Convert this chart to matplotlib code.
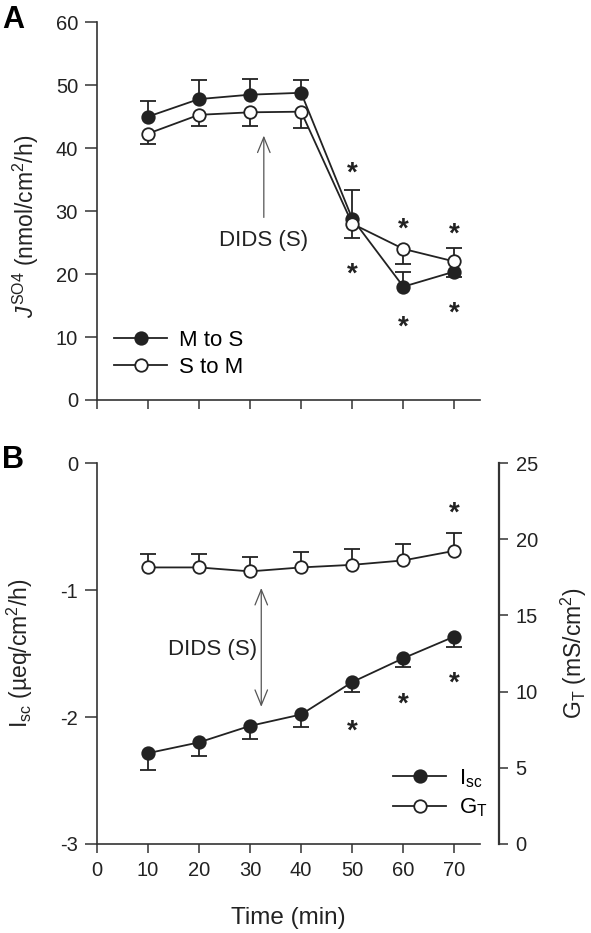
import matplotlib
matplotlib.use("Agg")
import matplotlib.pyplot as plt
from matplotlib import transforms
import numpy as np

# ── Data ──────────────────────────────────────────────────────────────────────
time = np.array([10, 20, 30, 40, 50, 60, 70])

# Panel A: J_SO4 (nmol/cm2/h)
ms_mean = np.array([45.0, 47.8, 48.5, 48.8, 28.8, 18.0, 20.4])
ms_err_hi = np.array([2.5, 3.0, 2.5, 2.0, 4.6, 2.3, 0.0])
ms_err_lo = np.array([0.0, 0.0, 0.0, 0.0, 0.0, 0.0, 0.9])
sm_mean = np.array([42.3, 45.3, 45.7, 45.8, 28.0, 24.0, 22.0])
sm_err_hi = np.array([0.0, 0.0, 0.0, 0.0, 0.0, 0.0, 2.1])
sm_err_lo = np.array([1.6, 1.8, 2.2, 2.6, 2.2, 2.4, 0.0])
star_a_x = [50, 50, 60, 60, 70, 70]
star_a_y = [37.2, 21.2, 28.3, 12.8, 27.6, 15.1]

# Panel B: Isc (ueq/cm2/h, left) and GT (mS/cm2, right)
isc_mean = np.array([-2.285, -2.20, -2.07, -1.98, -1.725, -1.537, -1.366])
isc_err_lo = np.array([0.135, 0.11, 0.105, 0.10, 0.075, 0.073, 0.084])
gt_mean = np.array([18.15, 18.15, 17.89, 18.15, 18.32, 18.61, 19.24])
gt_err_hi = np.array([0.90, 0.90, 0.94, 0.98, 1.05, 1.09, 1.16])
star_b_x = [50, 60, 70, 70]
star_b_y = [-2.05, -1.84, -1.67, -0.33]

# ── Style ─────────────────────────────────────────────────────────────────────
INK = "#222222"
AXC = "#333333"
ARROW = "#555555"
plt.rcParams.update({
    "font.family": ["Liberation Sans", "DejaVu Sans"],
    "mathtext.fontset": "custom",
    "mathtext.rm": "Liberation Sans",
    "mathtext.it": "Liberation Sans:italic",
    "mathtext.bf": "Liberation Sans:bold",
    "axes.unicode_minus": False,
    "axes.linewidth": 1.2,
    "axes.edgecolor": AXC,
    "xtick.color": AXC,
    "ytick.color": AXC,
    "xtick.labelcolor": INK,
    "ytick.labelcolor": INK,
    "xtick.labelsize": 14.5,
    "ytick.labelsize": 14.5,
    "xtick.direction": "out",
    "ytick.direction": "out",
})

MS = 9
LW = 1.3
CAP = 12


def err_bars(ax, x, y, lo, hi, z=1.5):
    """Vertical bars with horizontal caps, only on the sides that have error."""
    for err, sign in ((hi, 1.0), (lo, -1.0)):
        m = err > 0
        if not m.any():
            continue
        ends = y[m] + sign * err[m]
        ax.vlines(x[m], y[m], ends, color=INK, lw=LW, zorder=z)
        ax.plot(x[m], ends, ls="none", marker="_", ms=CAP, mew=LW,
                color=INK, zorder=z)


def stars(ax, fig, xs, ys, fs=20):
    tr = transforms.offset_copy(ax.transData, fig=fig, y=-0.55 * fs,
                                units="points")
    for x, y in zip(xs, ys):
        ax.text(x, y, "*", ha="center", va="baseline", fontsize=fs,
                fontweight="bold", color=INK, transform=tr)


fig = plt.figure(figsize=(5.91, 9.33), dpi=100)
axA = fig.add_axes([0.1636, 0.5713, 0.6486, 0.4048])
axB = fig.add_axes([0.1636, 0.0954, 0.6486, 0.4083])

# ── Panel A ───────────────────────────────────────────────────────────────────
err_bars(axA, time, ms_mean, ms_err_lo, ms_err_hi)
err_bars(axA, time, sm_mean, sm_err_lo, sm_err_hi)
axA.plot(time, ms_mean, "-o", color=INK, lw=LW, ms=MS, mfc=INK, mec=INK,
         mew=LW, zorder=3, label="M to S")
axA.plot(time, sm_mean, "-o", color=INK, lw=LW, ms=MS, mfc="white", mec=INK,
         mew=LW, zorder=3, label="S to M")
stars(axA, fig, star_a_x, star_a_y)

axA.annotate("", xy=(32.7, 42.0), xytext=(32.7, 29.0),
             arrowprops=dict(arrowstyle="->,head_length=1.1,head_width=0.45",
                             color=ARROW, lw=0.9, shrinkA=0, shrinkB=0))
axA.text(32.6, 25.4, "DIDS (S)", ha="center", va="center", fontsize=16,
         color=INK)

axA.set_xlim(0, 75)
axA.set_ylim(0, 60)
axA.set_xticks(range(0, 80, 10))
axA.set_xticklabels([])
axA.set_yticks(range(0, 70, 10))
axA.tick_params(axis="y", length=8.4, width=1.1, pad=5)
axA.tick_params(axis="x", length=6.5, width=1.1)
for s in ("top", "right"):
    axA.spines[s].set_visible(False)
axA.set_ylabel(r"$\mathit{J}^{\mathregular{SO4}}$ (nmol/cm$^{\mathregular{2}}$/h)",
               fontsize=16.5, color=INK)
axA.yaxis.set_label_coords(-0.145, 0.46)
axA.legend(loc="center left", bbox_to_anchor=(0.045, 0.122), frameon=False,
           fontsize=16, handlelength=2.4, handletextpad=0.55, labelspacing=0.3,
           borderpad=0, borderaxespad=0)

# ── Panel B ───────────────────────────────────────────────────────────────────
axB2 = axB.twinx()
err_bars(axB, time, isc_mean, isc_err_lo, np.zeros_like(isc_err_lo))
err_bars(axB2, time, gt_mean, np.zeros_like(gt_err_hi), gt_err_hi)
l1, = axB.plot(time, isc_mean, "-o", color=INK, lw=LW, ms=MS, mfc=INK,
               mec=INK, mew=LW, zorder=3, label=r"I$_{\mathregular{sc}}$")
l2, = axB2.plot(time, gt_mean, "-o", color=INK, lw=LW, ms=MS, mfc="white",
                mec=INK, mew=LW, zorder=3, label=r"G$_{\mathregular{T}}$")
stars(axB, fig, star_b_x, star_b_y)

axB.annotate("", xy=(32.2, -0.984), xytext=(32.2, -1.92),
             arrowprops=dict(arrowstyle="<->,head_length=1.1,head_width=0.45",
                             color=ARROW, lw=0.9, shrinkA=0, shrinkB=0))
axB.text(22.6, -1.47, "DIDS (S)", ha="center", va="center", fontsize=16,
         color=INK)

axB.set_xlim(0, 75)
axB.set_ylim(-3, 0)
axB2.set_ylim(0, 25)
axB.set_xticks(range(0, 80, 10))
axB.set_yticks([-3, -2, -1, 0])
axB2.set_yticks(range(0, 30, 5))
axB.tick_params(axis="y", length=8.4, width=1.1, pad=5)
axB.tick_params(axis="x", length=6.5, width=1.1, pad=6)
axB2.tick_params(axis="y", length=6.7, width=1.1, pad=5)
axB.spines["top"].set_visible(False)
axB.spines["right"].set_visible(False)
axB2.spines["top"].set_visible(False)
axB2.spines["left"].set_visible(False)
axB2.spines["bottom"].set_visible(False)
axB2.spines["right"].set_position(("outward", 14))
axB2.spines["right"].set_linewidth(1.6)

axB.set_xlabel("Time (min)", fontsize=17.5, color=INK)
axB.xaxis.set_label_coords(0.499, -0.165)
axB.set_ylabel("I$_{\\mathregular{sc}}$ (µeq/cm$^{\\mathregular{2}}$/h)",
               fontsize=16.5, color=INK)
axB.yaxis.set_label_coords(-0.16, 0.5)
axB2.set_ylabel(r"G$_{\mathregular{T}}$ (mS/cm$^{\mathregular{2}}$)",
                fontsize=16.5, color=INK, rotation=90, va="top")
axB2.yaxis.set_label_coords(1.205, 0.5)
axB.legend([l1, l2], [l1.get_label(), l2.get_label()], loc="center left",
           bbox_to_anchor=(0.773, 0.134), frameon=False, fontsize=16,
           handlelength=2.4, handletextpad=0.55, labelspacing=0.3,
           borderpad=0, borderaxespad=0)

# ── Panel letters ─────────────────────────────────────────────────────────────
fig.text(0.003, 0.9697, "A", fontsize=22, fontweight="bold", color="black",
         ha="left", va="baseline")
fig.text(0.003, 0.4984, "B", fontsize=22, fontweight="bold", color="black",
         ha="left", va="baseline")

fig.savefig("out.png", dpi=100)
